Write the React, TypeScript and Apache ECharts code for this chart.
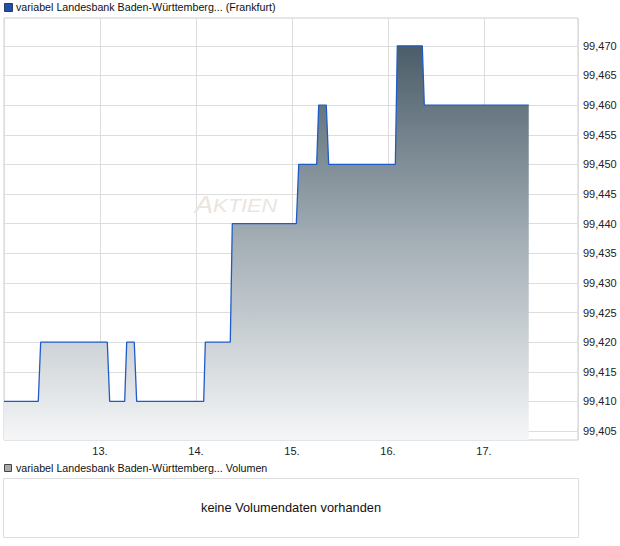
import React, { useEffect, useRef } from "react";
import * as echarts from "echarts";

const seriesName = "variabel Landesbank Baden-Württemberg... (Frankfurt)";
const volumeName = "variabel Landesbank Baden-Württemberg... Volumen";
const noVolumeText = "keine Volumendaten vorhanden";

// x in day-of-month units
const times = [12.0, 12.357, 12.382, 13.076, 13.101, 13.257, 13.278, 13.357, 13.382, 14.08, 14.097, 14.357, 14.378, 15.045, 15.07, 15.257, 15.278, 15.357, 15.382, 16.076, 16.097, 16.357, 16.378, 17.466];
const prices = [99.41, 99.41, 99.42, 99.42, 99.41, 99.41, 99.42, 99.42, 99.41, 99.41, 99.42, 99.42, 99.44, 99.44, 99.45, 99.45, 99.46, 99.46, 99.45, 99.45, 99.47, 99.47, 99.46, 99.46];
const yTicks = [99.405, 99.41, 99.415, 99.42, 99.425, 99.43, 99.435, 99.44, 99.445, 99.45, 99.455, 99.46, 99.465, 99.47];
const xTickDays = [13, 14, 15, 16, 17];

const FONT = "Liberation Sans, Arial, sans-serif";

export default function App() {
  const ref = useRef<HTMLDivElement>(null);
  useEffect(() => {
    if (!ref.current) return;
    const chart = echarts.init(ref.current, null, { renderer: "svg" });
    chart.setOption({
      animation: false,
      backgroundColor: "#ffffff",
      textStyle: { fontFamily: FONT },
      grid: {
        left: 4,
        right: 42,
        top: 18,
        height: 422,
        show: true,
        borderColor: "#cccccc",
        borderWidth: 1,
        backgroundColor: "#ffffff",
      },
      xAxis: {
        type: "value",
        min: 12,
        max: 17.979,
        interval: 1,
        axisLine: { show: false },
        axisTick: { show: false },
        splitLine: { show: true, lineStyle: { color: "#dddddd", width: 1 } },
        axisLabel: {
          customValues: xTickDays,
          margin: 5,
          fontSize: 11,
          color: "#222222",
          fontFamily: FONT,
          formatter: (v: number) => Math.round(v) + ".",
        },
      },
      yAxis: {
        type: "value",
        position: "right",
        min: 99.4035,
        max: 99.4747,
        axisLine: { show: false },
        axisTick: { show: false, customValues: yTicks },
        splitLine: { show: true, lineStyle: { color: "#dddddd", width: 1 } },
        axisLabel: {
          customValues: yTicks,
          margin: 5,
          fontSize: 11,
          color: "#222222",
          fontFamily: FONT,
          formatter: (v: number) => v.toFixed(3).replace(".", ","),
        },
      },
      series: [
        {
          name: seriesName,
          type: "line",
          data: times.map((t, i) => [t, prices[i]]),
          showSymbol: false,
          symbol: "none",
          lineStyle: { color: "#1f5bc6", width: 1.3 },
          itemStyle: { color: "#1f5bc6" },
          areaStyle: {
            origin: "start",
            color: new echarts.graphic.LinearGradient(0, 0, 0, 1, [
              { offset: 0, color: "#4b5d69" },
              { offset: 0.5, color: "#a4afb6" },
              { offset: 1, color: "#f5f6f7" },
            ]),
            opacity: 1,
          },
          z: 3,
        },
      ],
      graphic: [
        {
          type: "rect",
          left: 4,
          top: 3,
          shape: { width: 8, height: 8 },
          style: { fill: "#1f4fb0", stroke: "#333a55", lineWidth: 1 },
        },
        {
          type: "text",
          left: 16,
          top: 1,
          style: { text: seriesName, fontSize: 10.7, fill: "#111111", fontFamily: FONT },
        },
        {
          type: "text",
          x: 236,
          y: 205,
          scaleX: 1.15,
          z: 1,
          style: {
            text: "{a|A}{b|KTIEN}",
            align: "center",
            verticalAlign: "middle",
            rich: {
              a: { fontSize: 24, fontStyle: "italic", fill: "#ebe5df", fontFamily: FONT },
              b: { fontSize: 19, fontStyle: "italic", fill: "#ebe5df", fontFamily: FONT },
            },
          },
        },
        {
          type: "rect",
          left: 4,
          top: 464,
          shape: { width: 7, height: 7 },
          style: { fill: "#aaaaaa", stroke: "#444444", lineWidth: 1 },
        },
        {
          type: "text",
          left: 16,
          top: 462,
          style: { text: volumeName, fontSize: 10.7, fill: "#111111", fontFamily: FONT },
        },
        {
          type: "rect",
          left: 3,
          top: 478,
          shape: { width: 575, height: 59 },
          style: { fill: "#ffffff", stroke: "#dddddd", lineWidth: 1 },
        },
        {
          type: "text",
          x: 291,
          y: 507,
          style: {
            text: noVolumeText,
            align: "center",
            verticalAlign: "middle",
            fontSize: 12.8,
            fill: "#111111",
            fontFamily: FONT,
          },
        },
      ],
    });
    return () => chart.dispose();
  }, []);
  return (
    <div
      ref={ref}
      style={{ position: "absolute", left: 0, top: 0, width: 620, height: 546 }}
    />
  );
}
